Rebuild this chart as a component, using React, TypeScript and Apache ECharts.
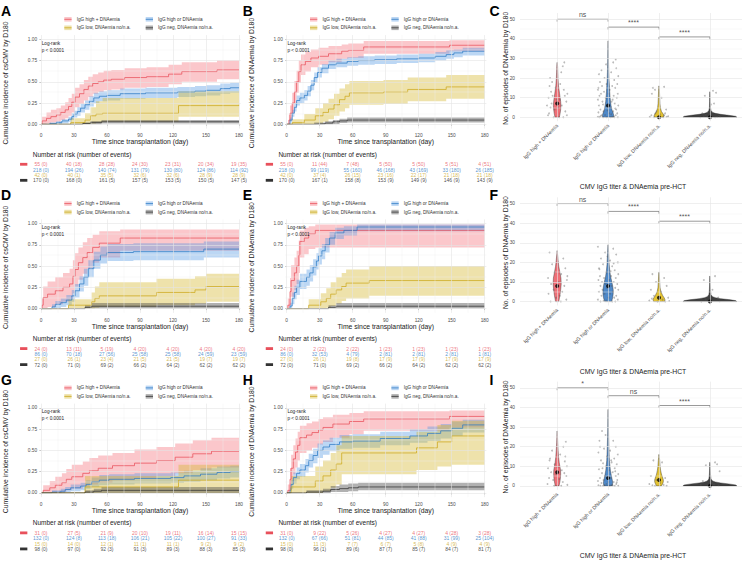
import React, { useEffect, useRef } from 'react';
import * as echarts from 'echarts';

// [day, cumulative incidence, lower CI, upper CI]
type Step = [number, number, number, number];
// [horizontal jitter (category units), number of episodes]
type Pt = [number, number];

const FONT = '"Liberation Sans", Arial, Helvetica, sans-serif';

const GROUPS = ['IgG high + DNAemia', 'IgG high or DNAemia', 'IgG low, DNAemia no/n.a.', 'IgG neg, DNAemia no/n.a.'];
const DAYS = [0, 30, 60, 90, 120, 150, 180];
const DAYS_MINOR = [15, 45, 75, 105, 135, 165];
const PROB_TICKS = [0, 0.25, 0.5, 0.75, 1];
const PROB_MINOR = [0.125, 0.375, 0.625, 0.875];
const COUNT_TICKS = [0, 10, 20, 30, 40, 50];
const COUNT_MINOR = [5, 15, 25, 35, 45];

const LINE = ['#E8505B', '#2E7BC4', '#CCA81E', '#333333'];
const BAND = ['rgba(245,100,112,0.36)', 'rgba(80,150,225,0.38)', 'rgba(212,182,45,0.40)', 'rgba(70,70,70,0.42)'];
const RISK_TEXT = ['#E8505B', '#2E7BC4', '#CCA81E', '#222222'];
const VIOLIN = ['#EF6F77', '#4E88C8', '#E3C232', '#404040'];

// ---------- A: csCMV, all patients ----------
const A_highDna: Step[] = [[0,0,0,0],[1,0.04,0,0.09],[5,0.07,0.01,0.14],[9,0.09,0.02,0.17],[14,0.11,0.03,0.19],[18,0.14,0.05,0.22],[22,0.17,0.07,0.26],[25,0.21,0.1,0.31],[28,0.26,0.14,0.36],[31,0.32,0.2,0.43],[35,0.36,0.24,0.47],[39,0.41,0.28,0.52],[43,0.45,0.32,0.56],[47,0.48,0.36,0.59],[52,0.5,0.38,0.61],[57,0.52,0.4,0.63],[64,0.53,0.41,0.64],[76,0.55,0.43,0.66],[96,0.56,0.44,0.67],[116,0.59,0.47,0.7],[128,0.62,0.5,0.73],[160,0.64,0.53,0.75],[180,0.64,0.53,0.75]];
const A_highOr: Step[] = [[0,0,0,0],[8,0.01,0,0.02],[14,0.02,0,0.04],[19,0.04,0.01,0.06],[25,0.06,0.03,0.09],[28,0.09,0.05,0.13],[30,0.12,0.08,0.16],[33,0.15,0.1,0.2],[36,0.19,0.14,0.24],[40,0.23,0.17,0.28],[44,0.27,0.21,0.33],[48,0.31,0.25,0.37],[53,0.33,0.27,0.39],[60,0.34,0.28,0.4],[72,0.36,0.3,0.42],[95,0.37,0.31,0.43],[124,0.38,0.32,0.44],[140,0.39,0.33,0.45],[150,0.4,0.34,0.46],[163,0.42,0.36,0.48],[172,0.43,0.37,0.49],[180,0.43,0.37,0.49]];
const A_low: Step[] = [[0,0,0,0],[27,0.02,0,0.07],[40,0.05,0,0.13],[45,0.1,0.01,0.2],[50,0.12,0.02,0.27],[56,0.13,0.03,0.31],[125,0.22,0.09,0.39],[180,0.23,0.1,0.4]];
const A_neg: Step[] = [[0,0,0,0],[38,0.01,0,0.02],[45,0.02,0,0.04],[55,0.03,0.01,0.05],[180,0.03,0.01,0.05]];

// ---------- B: DNAemia, all patients ----------
const B_highDna: Step[] = [[0,0,0,0],[2,0.05,0,0.11],[3,0.13,0.04,0.22],[5,0.25,0.13,0.37],[7,0.38,0.25,0.51],[9,0.5,0.37,0.63],[11,0.62,0.49,0.75],[13,0.7,0.58,0.82],[17,0.74,0.62,0.85],[22,0.78,0.67,0.88],[29,0.8,0.7,0.9],[38,0.83,0.73,0.92],[50,0.86,0.77,0.94],[56,0.87,0.78,0.95],[70,0.91,0.83,0.98],[148,0.93,0.86,0.99],[180,0.93,0.86,0.99]];
const B_highOr: Step[] = [[0,0,0,0],[3,0.05,0.02,0.08],[5,0.13,0.09,0.17],[7,0.2,0.15,0.25],[9,0.28,0.22,0.34],[12,0.31,0.25,0.37],[16,0.34,0.28,0.4],[19,0.39,0.33,0.45],[22,0.46,0.4,0.52],[25,0.55,0.49,0.61],[28,0.61,0.55,0.67],[32,0.66,0.6,0.71],[38,0.7,0.65,0.75],[45,0.72,0.67,0.77],[55,0.74,0.69,0.79],[65,0.75,0.7,0.8],[80,0.76,0.71,0.81],[100,0.77,0.72,0.82],[120,0.78,0.73,0.83],[135,0.8,0.75,0.85],[145,0.82,0.77,0.87],[152,0.84,0.79,0.88],[160,0.86,0.81,0.9],[180,0.86,0.81,0.9]];
const B_low: Step[] = [[0,0,0,0],[5,0.02,0,0.06],[16,0.05,0,0.12],[26,0.1,0.01,0.19],[33,0.14,0.03,0.25],[38,0.18,0.06,0.3],[43,0.23,0.1,0.36],[48,0.29,0.15,0.42],[53,0.33,0.19,0.47],[57,0.37,0.23,0.51],[88,0.38,0.24,0.52],[110,0.41,0.27,0.55],[145,0.44,0.3,0.58],[180,0.44,0.3,0.58]];
const B_neg: Step[] = [[0,0,0,0],[25,0.006,0,0.02],[35,0.015,0,0.035],[42,0.03,0.005,0.05],[48,0.04,0.015,0.065],[55,0.05,0.02,0.08],[180,0.05,0.02,0.08]];

// ---------- D: csCMV, subgroup ----------
const D_highDna: Step[] = [[0,0,0,0],[1,0.04,0,0.12],[2,0.13,0,0.26],[6,0.17,0.02,0.32],[13,0.21,0.05,0.37],[20,0.25,0.08,0.42],[26,0.29,0.11,0.47],[29,0.38,0.18,0.57],[31,0.46,0.26,0.65],[34,0.54,0.34,0.72],[38,0.6,0.41,0.78],[42,0.66,0.47,0.83],[47,0.72,0.54,0.87],[53,0.77,0.6,0.91],[72,0.83,0.68,0.93],[180,0.83,0.68,0.93]];
const D_highOr: Step[] = [[0,0,0,0],[10,0.02,0,0.05],[13,0.05,0,0.09],[18,0.07,0.02,0.12],[23,0.1,0.04,0.16],[28,0.15,0.08,0.22],[31,0.21,0.13,0.29],[35,0.29,0.2,0.38],[39,0.37,0.27,0.47],[43,0.47,0.37,0.57],[48,0.57,0.47,0.67],[54,0.63,0.53,0.73],[60,0.66,0.56,0.76],[84,0.67,0.57,0.77],[148,0.7,0.6,0.79],[180,0.7,0.6,0.79]];
const D_low: Step[] = [[0,0,0,0],[25,0.04,0,0.11],[46,0.08,0,0.19],[49,0.12,0.01,0.26],[53,0.15,0.02,0.31],[105,0.19,0.04,0.35],[140,0.22,0.06,0.38],[150,0.26,0.08,0.41],[180,0.26,0.08,0.41]];
const D_neg: Step[] = [[0,0,0,0],[40,0.015,0,0.04],[46,0.028,0,0.066],[180,0.028,0,0.066]];

// ---------- E: DNAemia, subgroup ----------
const E_highDna: Step[] = [[0,0,0,0],[1,0.04,0,0.12],[3,0.2,0.04,0.36],[4,0.33,0.14,0.51],[7,0.42,0.22,0.6],[9,0.5,0.29,0.68],[11,0.63,0.42,0.8],[12,0.79,0.6,0.92],[16,0.83,0.64,0.95],[20,0.88,0.7,0.97],[26,0.92,0.72,0.99],[180,0.92,0.72,0.99]];
const E_highOr: Step[] = [[0,0,0,0],[3,0.03,0,0.07],[5,0.12,0.05,0.19],[7,0.19,0.11,0.27],[9,0.25,0.16,0.34],[12,0.32,0.23,0.41],[18,0.37,0.27,0.46],[21,0.42,0.32,0.51],[24,0.49,0.39,0.58],[27,0.56,0.46,0.65],[29,0.62,0.52,0.71],[32,0.68,0.58,0.76],[35,0.75,0.66,0.83],[39,0.83,0.75,0.9],[44,0.89,0.82,0.95],[52,0.92,0.86,0.97],[64,0.96,0.91,0.99],[180,0.96,0.91,0.99]];
const E_low: Step[] = [[0,0,0,0],[20,0.04,0,0.11],[31,0.08,0,0.18],[36,0.12,0.01,0.24],[40,0.17,0.03,0.31],[45,0.22,0.06,0.37],[50,0.26,0.09,0.42],[54,0.3,0.12,0.46],[75,0.33,0.15,0.5],[180,0.33,0.15,0.5]];
const E_neg: Step[] = [[0,0,0,0],[38,0.015,0,0.04],[45,0.028,0,0.066],[180,0.028,0,0.066]];

// ---------- G: csCMV, subgroup ----------
const G_highDna: Step[] = [[0,0,0,0],[2,0.03,0,0.09],[8,0.06,0,0.14],[13,0.09,0,0.19],[19,0.12,0.01,0.23],[23,0.16,0.03,0.28],[28,0.19,0.05,0.33],[38,0.23,0.08,0.37],[44,0.26,0.1,0.41],[52,0.29,0.12,0.44],[65,0.32,0.15,0.47],[85,0.35,0.17,0.51],[105,0.38,0.2,0.54],[122,0.42,0.23,0.58],[138,0.46,0.27,0.62],[155,0.49,0.3,0.65],[180,0.49,0.3,0.65]];
const G_highOr: Step[] = [[0,0,0,0],[10,0.01,0,0.03],[18,0.02,0,0.05],[22,0.04,0.01,0.07],[27,0.06,0.02,0.1],[36,0.08,0.03,0.12],[41,0.1,0.05,0.15],[46,0.13,0.07,0.18],[53,0.15,0.09,0.21],[62,0.16,0.1,0.22],[85,0.17,0.11,0.23],[118,0.18,0.12,0.24],[130,0.2,0.13,0.26],[145,0.22,0.15,0.29],[160,0.24,0.17,0.31],[172,0.25,0.18,0.32],[180,0.25,0.18,0.32]];
const G_low: Step[] = [[0,0,0,0],[40,0.07,0,0.2],[125,0.15,0,0.33],[180,0.15,0,0.33]];
const G_neg: Step[] = [[0,0,0,0],[40,0.01,0,0.03],[48,0.02,0,0.05],[55,0.03,0,0.07],[180,0.03,0,0.07]];

// ---------- H: DNAemia, subgroup ----------
const H_highDna: Step[] = [[0,0,0,0],[1,0.03,0,0.1],[3,0.16,0.03,0.29],[4,0.29,0.12,0.45],[6,0.4,0.22,0.56],[8,0.48,0.3,0.64],[10,0.56,0.38,0.72],[12,0.65,0.47,0.79],[18,0.68,0.5,0.82],[23,0.71,0.53,0.84],[29,0.74,0.57,0.87],[33,0.77,0.6,0.89],[42,0.81,0.65,0.92],[57,0.84,0.69,0.94],[70,0.87,0.73,0.96],[148,0.9,0.77,0.97],[180,0.9,0.77,0.97]];
const H_highOr: Step[] = [[0,0,0,0],[3,0.03,0,0.06],[4,0.1,0.05,0.15],[6,0.18,0.11,0.24],[9,0.23,0.16,0.3],[12,0.27,0.19,0.34],[17,0.32,0.24,0.4],[20,0.38,0.3,0.46],[24,0.44,0.35,0.52],[28,0.5,0.41,0.58],[33,0.54,0.45,0.62],[39,0.57,0.49,0.65],[48,0.6,0.52,0.68],[60,0.61,0.53,0.69],[85,0.64,0.56,0.72],[112,0.67,0.59,0.75],[128,0.7,0.61,0.78],[140,0.73,0.64,0.81],[150,0.76,0.67,0.84],[160,0.8,0.71,0.86],[180,0.8,0.71,0.86]];
const H_low: Step[] = [[0,0,0,0],[4,0.07,0,0.2],[26,0.14,0,0.31],[33,0.2,0.02,0.38],[40,0.27,0.06,0.47],[45,0.34,0.1,0.56],[50,0.47,0.22,0.67],[118,0.53,0.27,0.72],[137,0.6,0.31,0.8],[150,0.67,0.33,0.85],[180,0.67,0.33,0.85]];
const H_neg: Step[] = [[0,0,0,0],[18,0.01,0,0.03],[33,0.02,0,0.05],[40,0.04,0.01,0.08],[48,0.05,0.01,0.1],[56,0.06,0.02,0.11],[65,0.07,0.03,0.12],[180,0.07,0.03,0.12]];

// ---------- number at risk / cumulative events at DAYS ----------
const A_atRisk = [[55,40,28,24,23,20,19],[218,194,140,131,130,124,114],[42,40,35,32,32,28,28],[170,168,161,157,153,150,147]];
const A_events = [[0,18,28,30,31,34,35],[0,26,74,79,80,86,92],[0,1,5,6,6,9,9],[0,0,5,5,5,5,5]];
const B_atRisk = [[55,11,7,5,5,5,4],[218,99,55,46,43,33,26],[42,37,26,23,22,21,21],[170,167,158,153,149,146,143]];
const B_events = [[0,44,48,50,50,51,51],[0,119,160,168,169,180,185],[0,4,15,16,17,18,18],[0,1,8,9,9,9,9]];
const D_atRisk = [[24,13,5,4,4,4,4],[86,70,27,25,25,24,23],[27,26,23,21,21,19,19],[72,71,69,66,64,62,62]];
const D_events = [[0,11,19,20,20,20,20],[0,18,56,58,58,59,59],[0,1,4,5,5,7,7],[0,0,2,2,2,2,2]];
const E_atRisk = [[24,2,2,1,1,1,1],[86,32,4,2,2,2,1],[27,26,19,17,17,17,17],[72,71,69,66,64,62,62]];
const E_events = [[0,22,22,23,23,23,23],[0,53,79,81,81,81,81],[0,1,8,9,9,9,9],[0,0,2,2,2,2,2]];
const G_atRisk = [[31,27,21,20,19,16,15],[132,124,113,106,105,100,91],[15,14,12,11,11,9,9],[98,97,92,91,89,88,85]];
const G_events = [[0,5,9,10,11,14,15],[0,8,18,21,22,27,33],[0,0,1,1,1,2,2],[0,0,3,3,3,3,3]];
const H_atRisk = [[31,9,5,4,4,4,3],[132,67,51,44,41,31,25],[15,11,7,6,5,4,4],[98,96,89,87,85,84,81]];
const H_events = [[0,22,26,27,27,28,28],[0,66,81,85,88,99,104],[0,3,7,7,8,9,9],[0,1,6,7,7,7,7]];

// ---------- episodes of DNAemia: violin density profiles [count, relative half-width] ----------
const C_density: Pt[][] = [
  [[0,0.08],[2,0.11],[4,0.13],[6,0.14],[8,0.13],[10,0.11],[12,0.09],[14,0.07],[16,0.05],[18,0.04],[20,0.03],[23,0.022],[26,0.015],[28,0.005]],
  [[0,0.2],[1,0.21],[2,0.19],[4,0.14],[6,0.11],[8,0.09],[10,0.075],[13,0.06],[16,0.05],[19,0.035],[23,0.025],[27,0.018],[31,0.012],[35,0.008],[39,0.003]],
  [[0,0.17],[1,0.18],[2,0.14],[3,0.09],[5,0.05],[7,0.035],[10,0.025],[13,0.018],[16,0.005]],
  [[0,1],[0.5,0.95],[1,0.7],[1.5,0.4],[2,0.2],[2.5,0.1],[3.5,0.04],[5,0.02],[8,0.013],[11,0.009],[13,0.003]],
];
const F_density: Pt[][] = [
  [[0,0.06],[3,0.1],[6,0.13],[9,0.15],[12,0.14],[15,0.1],[18,0.06],[21,0.035],[24,0.015],[26,0.004]],
  [[0,0.13],[2,0.17],[4,0.19],[6,0.19],[8,0.17],[10,0.14],[13,0.09],[16,0.06],[19,0.04],[22,0.03],[25,0.02],[29,0.004]],
  [[0,0.2],[1,0.22],[2,0.19],[3,0.14],[5,0.07],[7,0.04],[10,0.025],[13,0.015],[15,0.004]],
  [[0,1],[0.5,0.95],[1,0.7],[1.5,0.4],[2,0.2],[2.5,0.1],[3.5,0.04],[6,0.02],[9,0.012],[13,0.003]],
];
const I_density: Pt[][] = [
  [[0,0.07],[2,0.1],[4,0.12],[6,0.13],[8,0.125],[10,0.1],[12,0.075],[15,0.05],[18,0.035],[22,0.02],[25,0.012],[28,0.004]],
  [[0,0.15],[1,0.17],[2,0.17],[4,0.14],[6,0.11],[8,0.085],[10,0.07],[13,0.05],[16,0.04],[20,0.03],[25,0.02],[30,0.013],[35,0.008],[39,0.003]],
  [[0,0.09],[1,0.13],[2,0.16],[3,0.16],[4,0.14],[6,0.09],[8,0.06],[10,0.04],[13,0.025],[16,0.005]],
  [[0,1],[0.5,0.95],[1,0.7],[1.5,0.4],[2,0.2],[2.5,0.1],[3.5,0.04],[6,0.02],[9,0.012],[12,0.003]],
];

// ---------- individual patients (jittered) ----------
const C_points: Pt[][] = [
  [[-0.14,20],[-0.1,18],[0.14,28],[0.11,26],[0.08,23],[-0.15,16],[-0.12,13],[-0.17,10],[0.05,9],[0.15,11],[0.02,5],[-0.05,4],[0.18,8],[-0.18,1],[0.12,0],[-0.07,0],[0.2,12],[-0.03,15],[0.09,6],[-0.11,7],[0.16,3],[-0.16,2],[0.06,17],[-0.2,6],[0.13,14],[-0.01,9],[0.19,1],[-0.09,11],[0.04,0],[-0.13,5]],
  [[-0.17,0],[-0.1,0],[-0.03,0],[0.05,0],[0.12,0],[0.19,0],[-0.2,0.3],[0.08,0.2],[-0.13,1],[0.15,1],[-0.06,1.2],[0.02,2],[0.18,2],[-0.19,2.5],[0.1,3],[-0.09,3],[0.16,4],[-0.15,4],[0.04,5],[-0.02,5.5],[0.2,6],[-0.18,6],[0.13,7],[-0.11,8],[0.07,8],[-0.2,9],[0.17,10],[-0.05,10],[0.11,11],[-0.14,12],[0.19,12],[-0.08,13],[0.03,14],[-0.19,15],[0.14,15],[-0.12,16],[0.08,16],[-0.03,17],[0.18,17],[-0.16,18],[0.12,19],[-0.07,20],[0.2,21],[-0.18,22],[0.06,23],[-0.13,24],[0.16,25],[-0.04,27],[0.1,28],[0.15,29.5],[-0.2,14],[0.01,12],[-0.17,11],[0.09,9],[-0.1,6.5],[0.14,4.5],[-0.01,3.5],[0.06,1.5],[-0.15,0.5],[0.11,0.4]],
  [[-0.12,15],[-0.08,14],[0.1,15.5],[-0.14,12],[0.05,10],[-0.05,3],[0.12,2],[-0.15,1],[0.15,0.3],[-0.1,0],[0.08,0],[0.18,0.5],[-0.18,0.2],[0.02,1.5],[0.14,4],[-0.02,0],[0.1,1],[-0.07,2]],
  [[0.06,13.5],[0.12,12.5],[-0.1,11],[0.02,6.5],[0.08,7],[-0.15,2],[0.18,1],[-0.05,0.4],[0.14,0.2],[-0.19,0],[0.2,0.3],[-0.08,1.2],[0.1,0],[-0.12,0.5]],
];
const F_points: Pt[][] = [
  [[-0.15,25],[0.12,22],[-0.1,19],[0.16,17],[-0.05,15],[0.08,14],[-0.18,12],[0.19,11],[0.03,10],[-0.12,9],[0.14,8],[-0.07,6],[0.1,5],[-0.17,4],[0.05,3],[-0.02,2],[0.18,1],[-0.13,0],[0.07,0],[0.2,13]],
  [[-0.2,28],[0.1,27],[-0.06,25],[0.16,24],[-0.14,22],[0.04,21],[0.19,20],[-0.1,19],[0.08,18],[-0.18,17],[0.13,16],[-0.03,15],[0.2,14],[-0.16,13],[0.06,13],[-0.08,12],[0.15,12],[-0.19,11],[0.02,11],[0.11,10],[-0.12,10],[0.18,9],[-0.05,9],[0.07,8],[-0.15,8],[0.14,7],[-0.02,7],[0.2,6],[-0.11,6],[0.09,5],[-0.18,5],[0.04,4],[-0.07,4],[0.16,3],[-0.13,3],[0.01,2],[0.12,2],[-0.2,1],[0.19,1],[-0.04,0.5],[0.08,0],[-0.15,0],[0.14,0],[-0.09,0.3],[0.05,15.5],[-0.17,16.5],[0.11,19.5],[-0.01,23]],
  [[-0.13,14],[0.1,12],[-0.06,10],[0.15,8],[-0.16,6],[0.04,5],[-0.1,3],[0.18,2],[0.07,1],[-0.19,0.5],[0.12,0],[-0.03,0],[0.2,0.3],[-0.14,1.5],[0.01,2.5]],
  [[0.1,13],[-0.12,11],[0.05,6],[0.16,2],[-0.08,1],[0.19,0.2],[-0.17,0],[0.02,0.4]],
];
const I_points: Pt[][] = [
  [[0.17,22.5],[0.12,20],[-0.1,18],[0.06,16],[-0.15,13],[0.15,12.5],[-0.05,11],[0.19,10],[-0.18,9],[0.09,8],[-0.12,7],[0.14,6.5],[-0.02,6],[0.18,5],[-0.16,4],[0.04,3.5],[-0.08,3],[0.11,2],[-0.19,1],[0.2,0.5],[-0.06,0],[0.08,0],[0.16,15],[-0.14,14],[0.01,9.5]],
  [[-0.12,28],[-0.05,26],[0.1,23],[-0.17,23],[0.15,20],[-0.08,19],[0.04,18],[-0.19,17],[0.19,16],[-0.02,15],[0.12,14],[-0.14,13],[0.07,12],[-0.1,11.5],[0.17,11],[-0.04,10],[0.13,9],[-0.18,8.5],[0.02,8],[0.09,7],[-0.12,6.5],[0.2,6],[-0.06,5],[0.15,5],[-0.16,4],[0.05,4],[-0.09,3],[0.18,3],[-0.2,2.5],[0.01,2],[0.11,2],[-0.13,1.5],[0.16,1],[-0.03,1],[0.07,0.5],[-0.19,0.3],[0.2,0],[-0.1,0],[0.03,0],[0.13,0],[-0.15,0],[0.09,0.2],[-0.07,0.4],[0.17,1.8],[-0.01,3.5],[0.14,7.5],[-0.11,9],[0.06,13],[-0.16,20]],
  [[-0.11,13],[0.06,12],[-0.16,5],[0.12,4],[-0.05,3],[0.17,2],[-0.19,1],[0.09,0.5],[-0.08,0],[0.15,0],[0.02,1.5],[-0.13,0.3]],
  [[0.1,12],[0.14,11],[-0.08,10.5],[0.19,7.5],[-0.14,2.5],[0.05,1.5],[-0.18,0.5],[0.17,0.2],[-0.04,0],[0.08,0.8]],
];

const C_medians = [7, 6, 0, 0];
const F_medians = [8, 8, 2, 0];
const I_medians = [7, 4, 3, 0];

// [from group, to group, height, significance]
const C_brackets: [number, number, number, string][] = [[1, 2, 50, 'ns'], [2, 3, 46, '****'], [3, 4, 41, '****']];
const F_brackets: [number, number, number, string][] = [[1, 2, 50, 'ns'], [2, 3, 46, '****'], [3, 4, 41, '****']];
const I_brackets: [number, number, number, string][] = [[1, 2, 50, '*'], [2, 3, 46, 'ns'], [3, 4, 41, '****']];

const CS_TITLE = 'Cumulative incidence of csCMV by D180';
const DNA_TITLE = 'Cumulative incidence of DNAemia by D180';

const KM_PANELS = [
  { letter: 'A', row: 0, col: 0, title: CS_TITLE, curves: [A_highDna, A_highOr, A_low, A_neg], atRisk: A_atRisk, events: A_events },
  { letter: 'B', row: 0, col: 1, title: DNA_TITLE, curves: [B_highDna, B_highOr, B_low, B_neg], atRisk: B_atRisk, events: B_events },
  { letter: 'D', row: 1, col: 0, title: CS_TITLE, curves: [D_highDna, D_highOr, D_low, D_neg], atRisk: D_atRisk, events: D_events },
  { letter: 'E', row: 1, col: 1, title: DNA_TITLE, curves: [E_highDna, E_highOr, E_low, E_neg], atRisk: E_atRisk, events: E_events },
  { letter: 'G', row: 2, col: 0, title: CS_TITLE, curves: [G_highDna, G_highOr, G_low, G_neg], atRisk: G_atRisk, events: G_events },
  { letter: 'H', row: 2, col: 1, title: DNA_TITLE, curves: [H_highDna, H_highOr, H_low, H_neg], atRisk: H_atRisk, events: H_events },
];

const VIOLIN_PANELS = [
  { letter: 'C', row: 0, density: C_density, points: C_points, medians: C_medians, brackets: C_brackets },
  { letter: 'F', row: 1, density: F_density, points: F_points, medians: F_medians, brackets: F_brackets },
  { letter: 'I', row: 2, density: I_density, points: I_points, medians: I_medians, brackets: I_brackets },
];

// ---------- layout ----------
const ROW_H = 184.3;
const KM_ZERO_X = [41, 286.7];
const DAY_PX = 1.1;
const X_MIN = -1.5;
const X_MAX = 181.5;
const KM_TOP = 35.05;
const KM_H = 93.5;
const RISK_TOP = 161.6;
const RISK_H = 21.4;
const VIO_LEFT = 520;
const VIO_W = 222;
const VIO_TOP = 13;
const VIO_H = 108.2;
const VIOLIN_HALF = 0.53;
const BRACKET_TIP = 1.2;

const MAJOR = { color: '#e4e4e4', width: 0.6, type: 'solid' };
const MINOR = { color: '#f1f1f1', width: 0.4, type: 'solid' };

function txt(text: string, x: number, y: number, o: any = {}) {
  const align = o.align || 'left';
  const valign = o.valign || 'middle';
  return {
    type: 'text', x, y, silent: true, rotation: o.rotation || 0, z: 10,
    style: {
      text, fontSize: o.size || 5, fontFamily: FONT, fontWeight: o.weight || 'normal',
      fill: o.color || '#222', textAlign: align, textVerticalAlign: valign, align, verticalAlign: valign,
    },
  };
}

function gridHost(gi: number, vx: number[], vy: number[], mx: number[], my: number[]) {
  return {
    type: 'line', xAxisIndex: gi, yAxisIndex: gi, data: [[vx[0], vy[0]]], symbol: 'none', silent: true, z: 0,
    lineStyle: { opacity: 0 },
    markLine: {
      silent: true, symbol: ['none', 'none'], label: { show: false }, animation: false,
      emphasis: { disabled: true },
      data: [
        ...mx.map((v) => ({ xAxis: v, lineStyle: MINOR })),
        ...my.map((v) => ({ yAxis: v, lineStyle: MINOR })),
        ...vx.map((v) => ({ xAxis: v, lineStyle: MAJOR })),
        ...vy.map((v) => ({ yAxis: v, lineStyle: MAJOR })),
      ],
    },
  };
}

function buildOption() {
  const grid: any[] = [];
  const xAxis: any[] = [];
  const yAxis: any[] = [];
  const series: any[] = [];
  const graphic: any[] = [];

  const tickLabel = { fontSize: 4.8, color: '#4d4d4d', fontFamily: FONT };

  KM_PANELS.forEach((p) => {
    const dy = p.row * ROW_H;
    const zeroX = KM_ZERO_X[p.col];
    const dx = zeroX - KM_ZERO_X[0];
    const left = zeroX + X_MIN * DAY_PX;
    const width = (X_MAX - X_MIN) * DAY_PX;

    // curve panel
    const gi = grid.length;
    grid.push({ left, top: KM_TOP + dy, width, height: KM_H });
    xAxis.push({
      type: 'value', gridIndex: gi, min: X_MIN, max: X_MAX,
      axisLine: { show: false },
      axisTick: { show: true, length: 1.5, lineStyle: { color: '#444', width: 0.5 }, customValues: DAYS },
      axisLabel: { ...tickLabel, customValues: DAYS, margin: 4.7 },
      splitLine: { show: false },
    });
    yAxis.push({
      type: 'value', gridIndex: gi, min: -0.05, max: 1.05,
      axisLine: { show: false },
      axisTick: { show: true, length: 1.5, lineStyle: { color: '#444', width: 0.5 }, customValues: PROB_TICKS },
      axisLabel: { ...tickLabel, customValues: PROB_TICKS, formatter: (v: number) => v.toFixed(2), margin: 2.2 },
      splitLine: { show: false },
    });
    series.push(gridHost(gi, DAYS, PROB_TICKS, DAYS_MINOR, PROB_MINOR));

    p.curves.forEach((c, g) => {
      series.push({
        type: 'custom', xAxisIndex: gi, yAxisIndex: gi, silent: true, z: 1,
        data: [[0, 0]],
        renderItem: (_params: any, api: any) => {
          const pts: number[][] = [];
          for (let i = 0; i < c.length; i++) {
            if (i > 0) pts.push(api.coord([c[i][0], c[i - 1][3]]));
            pts.push(api.coord([c[i][0], c[i][3]]));
          }
          for (let i = c.length - 1; i >= 0; i--) {
            pts.push(api.coord([c[i][0], c[i][2]]));
            if (i > 0) pts.push(api.coord([c[i][0], c[i - 1][2]]));
          }
          return { type: 'polygon', shape: { points: pts }, style: { fill: BAND[g] } };
        },
      });
    });
    p.curves.forEach((c, g) => {
      series.push({
        type: 'line', xAxisIndex: gi, yAxisIndex: gi, step: 'end', silent: true, z: 2,
        data: c.map((s) => [s[0], s[1]]), symbol: 'none',
        lineStyle: { color: LINE[g], width: 0.75 },
      });
    });

    // number-at-risk table
    const ri = grid.length;
    grid.push({ left, top: RISK_TOP + dy, width, height: RISK_H });
    xAxis.push({ type: 'value', gridIndex: ri, min: X_MIN, max: X_MAX, show: false });
    const rich: any = {};
    LINE.forEach((col, g) => { rich['k' + g] = { backgroundColor: col, width: 7.3, height: 2.8 }; });
    yAxis.push({
      type: 'category', gridIndex: ri, data: GROUPS, inverse: true,
      axisLine: { show: false }, axisTick: { show: false }, splitLine: { show: false },
      axisLabel: { margin: 12, formatter: (_v: string, i: number) => `{k${i}|}`, rich },
    });
    p.atRisk.forEach((row, g) => {
      series.push({
        type: 'scatter', xAxisIndex: ri, yAxisIndex: ri, silent: true, symbolSize: 1,
        itemStyle: { color: 'rgba(0,0,0,0)' },
        data: DAYS.map((d) => [d, g]),
        label: {
          show: true, position: 'inside', fontSize: 5, fontFamily: FONT, color: RISK_TEXT[g],
          formatter: (prm: any) => `${row[prm.dataIndex]} (${p.events[g][prm.dataIndex]})`,
        },
      });
    });

    // annotations
    graphic.push(txt(p.letter, 1 + (p.col ? 241.7 : 0), 4 + dy, { size: 14, weight: 'bold', valign: 'top', color: '#000' }));
    const keyRows = [19.3, 27.8];
    const keyCols = [64.3, 145.7];
    const textCols = [76.7, 158];
    GROUPS.forEach((name, g) => {
      const kx = keyCols[g % 2] + dx;
      const ky = keyRows[Math.floor(g / 2)] + dy;
      graphic.push({ type: 'rect', silent: true, shape: { x: kx, y: ky - 2.3, width: 7.3, height: 4.6 }, style: { fill: BAND[g] } });
      graphic.push({ type: 'line', silent: true, shape: { x1: kx, y1: ky, x2: kx + 7.3, y2: ky }, style: { stroke: LINE[g], lineWidth: 0.8 } });
      graphic.push(txt(name, textCols[g % 2] + dx, ky, { size: 4.7, color: '#333' }));
    });
    graphic.push(txt('Log-rank', 41.7 + dx, 43.3 + dy, { size: 4.7, color: '#222' }));
    graphic.push(txt('p < 0.0001', 41.7 + dx, 50 + dy, { size: 4.7, color: '#222' }));
    graphic.push(txt(p.title, 5.5 + dx, 83 + dy, { size: 6.8, align: 'center', rotation: Math.PI / 2, color: '#222' }));
    graphic.push(txt('Time since transplantation (day)', 140 + dx, 141.7 + dy, { size: 6.8, align: 'center', color: '#222' }));
    graphic.push(txt('Number at risk (number of events)', 32.7 + dx, 154 + dy, { size: 6.5, color: '#222' }));
  });

  VIOLIN_PANELS.forEach((p) => {
    const dy = p.row * ROW_H;
    const gi = grid.length;
    grid.push({ left: VIO_LEFT, top: VIO_TOP + dy, width: VIO_W, height: VIO_H });
    xAxis.push({
      type: 'value', gridIndex: gi, min: 0.27, max: 4.63,
      axisLine: { show: false }, axisTick: { show: false }, splitLine: { show: false },
      axisLabel: {
        customValues: [1, 2, 3, 4], formatter: (v: number) => GROUPS[Math.round(v) - 1],
        rotate: 45, fontSize: 5.1, color: '#4d4d4d', fontFamily: FONT, margin: 3.5,
      },
    });
    yAxis.push({
      type: 'value', gridIndex: gi, min: -2, max: 53.2,
      axisLine: { show: false }, axisTick: { show: false }, splitLine: { show: false },
      axisLabel: { ...tickLabel, customValues: COUNT_TICKS, margin: 5 },
    });
    series.push(gridHost(gi, [1, 2, 3, 4], COUNT_TICKS, [], COUNT_MINOR));

    p.density.forEach((prof, g) => {
      series.push({
        type: 'custom', xAxisIndex: gi, yAxisIndex: gi, silent: true, z: 1,
        data: [[g + 1, 0]],
        renderItem: (_params: any, api: any) => {
          const cx = g + 1;
          const right = prof.map(([v, d]) => api.coord([cx + d * VIOLIN_HALF, v]));
          const leftSide = prof.slice().reverse().map(([v, d]) => api.coord([cx - d * VIOLIN_HALF, v]));
          return {
            type: 'polygon', shape: { points: right.concat(leftSide) },
            style: { fill: VIOLIN[g], stroke: '#2a2a2a', lineWidth: 0.4 },
          };
        },
      });
    });

    series.push({
      type: 'scatter', xAxisIndex: gi, yAxisIndex: gi, silent: true, z: 3, symbolSize: 1.8,
      itemStyle: { color: 'rgba(85,85,85,0.5)' },
      data: p.points.flatMap((pts, g) => pts.map(([jx, v]) => [g + 1 + jx, v])),
    });
    series.push({
      type: 'scatter', xAxisIndex: gi, yAxisIndex: gi, silent: true, z: 4, symbolSize: 4,
      itemStyle: { color: '#000' },
      data: p.medians.map((m, g) => [g + 1, m]),
    });

    p.brackets.forEach(([a, b, y, lab]) => {
      series.push({
        type: 'line', xAxisIndex: gi, yAxisIndex: gi, silent: true, z: 3, symbol: 'none',
        data: [[a, y - BRACKET_TIP], [a, y], [b, y], [b, y - BRACKET_TIP]],
        lineStyle: { color: '#555', width: 0.6 },
      });
      series.push({
        type: 'scatter', xAxisIndex: gi, yAxisIndex: gi, silent: true, z: 3, symbolSize: 1,
        itemStyle: { color: 'rgba(0,0,0,0)' },
        data: [[(a + b) / 2, y]],
        label: { show: true, position: 'top', distance: 0.5, formatter: lab, fontSize: 7, fontFamily: FONT, color: '#222' },
      });
    });

    graphic.push(txt(p.letter, 489.5, 4 + dy, { size: 14, weight: 'bold', valign: 'top', color: '#000' }));
    graphic.push(txt('No. of episodes of DNAemia by D180', 505, 68.3 + dy, { size: 6.8, align: 'center', rotation: Math.PI / 2, color: '#222' }));
    graphic.push(txt('CMV IgG titer & DNAemia pre-HCT', 633, 186.7 + dy, { size: 6.8, align: 'center', color: '#222' }));
  });

  return {
    animation: false,
    backgroundColor: '#ffffff',
    textStyle: { fontFamily: FONT },
    grid, xAxis, yAxis, series, graphic,
  };
}

export default function App() {
  const ref = useRef<HTMLDivElement>(null);
  useEffect(() => {
    if (!ref.current) return;
    const chart = echarts.init(ref.current, null, { renderer: 'svg' });
    chart.setOption(buildOption() as any);
    return () => chart.dispose();
  }, []);
  return (
    <div
      ref={ref}
      style={{ position: 'fixed', left: 0, top: 0, width: 745, height: 561, background: '#fff' }}
    />
  );
}
